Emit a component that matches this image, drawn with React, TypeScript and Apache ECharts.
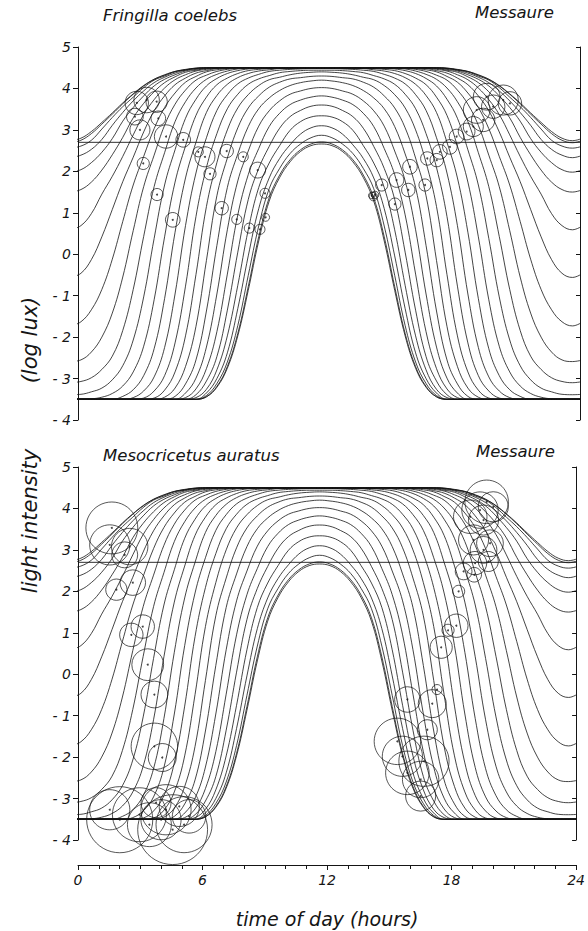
import React, { useEffect, useRef } from "react";
import * as echarts from "echarts";

// Solar time grid (hours from solar midnight to solar noon); afternoon mirrors the morning
const SOLAR_HOURS = [0, 0.5, 1, 1.5, 2, 2.5, 3, 3.5, 4, 4.5, 5, 5.5, 6, 6.5, 7, 7.5, 8, 8.5, 9, 9.5, 10, 10.5, 11, 11.5, 12];
// clock time of solar noon at Messaure (curves are symmetric about it)
const SOLAR_NOON = 11.64;
// light level at sunrise / sunset (horizontal reference line), log lux
const SUNRISE_LEVEL = 2.7;

// light intensity (log lux) per weekly curve, from winter (week00) to summer solstice (week26)
const week00 = [-3.5, -3.5, -3.5, -3.5, -3.5, -3.5, -3.5, -3.5, -3.5, -3.5, -3.5, -3.5, -3.5, -3.44, -3.21, -2.75, -1.97, -0.87, 0.32, 1.28, 1.85, 2.23, 2.48, 2.62, 2.66];
const week01 = [-3.5, -3.5, -3.5, -3.5, -3.5, -3.5, -3.5, -3.5, -3.5, -3.5, -3.5, -3.5, -3.5, -3.44, -3.19, -2.71, -1.91, -0.78, 0.42, 1.36, 1.91, 2.28, 2.52, 2.66, 2.71];
const week02 = [-3.5, -3.5, -3.5, -3.5, -3.5, -3.5, -3.5, -3.5, -3.5, -3.5, -3.5, -3.5, -3.5, -3.41, -3.12, -2.6, -1.72, -0.51, 0.68, 1.58, 2.07, 2.43, 2.66, 2.81, 2.87];
const week03 = [-3.5, -3.5, -3.5, -3.5, -3.5, -3.5, -3.5, -3.5, -3.5, -3.5, -3.5, -3.5, -3.5, -3.35, -3.0, -2.38, -1.31, -0.04, 1.1, 1.84, 2.31, 2.64, 2.9, 3.05, 3.1];
const week04 = [-3.5, -3.5, -3.5, -3.5, -3.5, -3.5, -3.5, -3.5, -3.5, -3.5, -3.5, -3.5, -3.46, -3.26, -2.79, -1.97, -0.75, 0.59, 1.61, 2.2, 2.62, 2.99, 3.2, 3.31, 3.34];
const week05 = [-3.5, -3.5, -3.5, -3.5, -3.5, -3.5, -3.5, -3.5, -3.5, -3.5, -3.5, -3.5, -3.39, -3.06, -2.47, -1.35, 0.05, 1.32, 2.07, 2.6, 3.04, 3.32, 3.47, 3.57, 3.6];
const week06 = [-3.5, -3.5, -3.5, -3.5, -3.5, -3.5, -3.5, -3.5, -3.5, -3.5, -3.5, -3.46, -3.25, -2.76, -1.87, -0.48, 0.95, 1.92, 2.55, 3.08, 3.4, 3.61, 3.72, 3.79, 3.82];
const week07 = [-3.5, -3.5, -3.5, -3.5, -3.5, -3.5, -3.5, -3.5, -3.5, -3.5, -3.5, -3.35, -2.99, -2.24, -0.96, 0.59, 1.77, 2.49, 3.09, 3.46, 3.7, 3.86, 3.94, 4.0, 4.02];
const week08 = [-3.5, -3.5, -3.5, -3.5, -3.5, -3.5, -3.5, -3.5, -3.5, -3.5, -3.43, -3.13, -2.55, -1.37, 0.21, 1.61, 2.42, 3.08, 3.51, 3.77, 3.95, 4.07, 4.14, 4.18, 4.2];
const week09 = [-3.5, -3.5, -3.5, -3.5, -3.5, -3.5, -3.5, -3.5, -3.5, -3.45, -3.23, -2.71, -1.74, -0.15, 1.41, 2.32, 3.05, 3.53, 3.82, 4.03, 4.15, 4.23, 4.26, 4.29, 4.3];
const week10 = [-3.5, -3.5, -3.5, -3.5, -3.5, -3.5, -3.5, -3.5, -3.47, -3.28, -2.84, -1.97, -0.49, 1.15, 2.21, 3.0, 3.53, 3.85, 4.07, 4.21, 4.27, 4.33, 4.37, 4.39, 4.4];
const week11 = [-3.5, -3.5, -3.5, -3.5, -3.5, -3.5, -3.5, -3.47, -3.3, -2.93, -2.14, -0.77, 0.91, 2.09, 2.91, 3.51, 3.86, 4.1, 4.23, 4.31, 4.38, 4.41, 4.43, 4.44, 4.44];
const week12 = [-3.5, -3.5, -3.5, -3.5, -3.5, -3.5, -3.46, -3.3, -2.96, -2.25, -0.96, 0.69, 1.96, 2.81, 3.47, 3.85, 4.11, 4.25, 4.34, 4.41, 4.44, 4.46, 4.47, 4.48, 4.48];
const week13 = [-3.5, -3.5, -3.5, -3.5, -3.5, -3.43, -3.27, -2.93, -2.28, -1.07, 0.53, 1.84, 2.7, 3.42, 3.83, 4.1, 4.26, 4.36, 4.42, 4.45, 4.48, 4.49, 4.49, 4.5, 4.5];
const week14 = [-3.5, -3.5, -3.49, -3.45, -3.36, -3.18, -2.84, -2.22, -1.1, 0.42, 1.74, 2.61, 3.35, 3.79, 4.09, 4.25, 4.36, 4.43, 4.46, 4.48, 4.49, 4.49, 4.5, 4.5, 4.5];
const week15 = [-3.39, -3.38, -3.32, -3.23, -3.03, -2.69, -2.07, -1.03, 0.38, 1.67, 2.52, 3.28, 3.74, 4.06, 4.24, 4.36, 4.43, 4.47, 4.49, 4.49, 4.5, 4.5, 4.5, 4.5, 4.5];
const week16 = [-3.1, -3.07, -2.98, -2.78, -2.46, -1.84, -0.85, 0.43, 1.63, 2.45, 3.2, 3.68, 4.01, 4.22, 4.34, 4.42, 4.47, 4.49, 4.5, 4.5, 4.5, 4.5, 4.5, 4.5, 4.5];
const week17 = [-2.59, -2.55, -2.36, -2.0, -1.42, -0.55, 0.57, 1.63, 2.39, 3.11, 3.62, 3.96, 4.2, 4.32, 4.41, 4.46, 4.49, 4.5, 4.5, 4.5, 4.5, 4.5, 4.5, 4.5, 4.5];
const week18 = [-1.73, -1.63, -1.34, -0.85, -0.12, 0.79, 1.67, 2.36, 3.03, 3.54, 3.89, 4.15, 4.29, 4.4, 4.45, 4.48, 4.5, 4.5, 4.5, 4.5, 4.5, 4.5, 4.5, 4.5, 4.5];
const week19 = [-0.56, -0.46, -0.13, 0.42, 1.08, 1.75, 2.34, 2.95, 3.46, 3.82, 4.09, 4.25, 4.37, 4.43, 4.48, 4.49, 4.5, 4.5, 4.5, 4.5, 4.5, 4.5, 4.5, 4.5, 4.5];
const week20 = [0.59, 0.69, 0.98, 1.45, 1.88, 2.36, 2.88, 3.37, 3.73, 4.01, 4.21, 4.33, 4.42, 4.46, 4.49, 4.5, 4.5, 4.5, 4.5, 4.5, 4.5, 4.5, 4.5, 4.5, 4.5];
const week21 = [1.5, 1.56, 1.74, 2.03, 2.4, 2.82, 3.29, 3.64, 3.92, 4.14, 4.28, 4.39, 4.44, 4.48, 4.49, 4.5, 4.5, 4.5, 4.5, 4.5, 4.5, 4.5, 4.5, 4.5, 4.5];
const week22 = [1.98, 2.04, 2.21, 2.46, 2.79, 3.21, 3.54, 3.82, 4.06, 4.22, 4.33, 4.42, 4.46, 4.49, 4.5, 4.5, 4.5, 4.5, 4.5, 4.5, 4.5, 4.5, 4.5, 4.5, 4.5];
const week23 = [2.33, 2.39, 2.53, 2.77, 3.11, 3.42, 3.7, 3.94, 4.14, 4.27, 4.37, 4.44, 4.48, 4.49, 4.5, 4.5, 4.5, 4.5, 4.5, 4.5, 4.5, 4.5, 4.5, 4.5, 4.5];
const week24 = [2.56, 2.61, 2.75, 3.02, 3.3, 3.56, 3.79, 4.02, 4.2, 4.3, 4.4, 4.45, 4.48, 4.5, 4.5, 4.5, 4.5, 4.5, 4.5, 4.5, 4.5, 4.5, 4.5, 4.5, 4.5];
const week25 = [2.69, 2.75, 2.91, 3.14, 3.38, 3.63, 3.86, 4.06, 4.22, 4.32, 4.41, 4.45, 4.49, 4.5, 4.5, 4.5, 4.5, 4.5, 4.5, 4.5, 4.5, 4.5, 4.5, 4.5, 4.5];
const week26 = [2.74, 2.8, 2.96, 3.18, 3.41, 3.65, 3.87, 4.07, 4.22, 4.33, 4.41, 4.46, 4.49, 4.5, 4.5, 4.5, 4.5, 4.5, 4.5, 4.5, 4.5, 4.5, 4.5, 4.5, 4.5];

const WEEKLY_CURVES = [week00, week01, week02, week03, week04, week05, week06, week07, week08, week09, week10, week11, week12, week13, week14, week15, week16, week17, week18, week19, week20, week21, week22, week23, week24, week25, week26];

// activity onsets / ends: [time of day (h), light intensity (log lux), circle radius (h)]
const FRINGILLA_COELEBS = [
  [3.28, 3.72, 0.61], [2.81, 3.65, 0.56], [3.76, 3.68, 0.51], [2.72, 3.32, 0.4], [2.96, 3.0, 0.48],
  [3.84, 3.28, 0.35], [4.21, 2.84, 0.56], [5.03, 2.76, 0.35], [3.12, 2.19, 0.29], [5.75, 2.47, 0.24],
  [6.07, 2.35, 0.48], [6.31, 1.94, 0.29], [7.11, 2.49, 0.32], [7.9, 2.35, 0.24], [8.59, 2.03, 0.38],
  [3.78, 1.44, 0.29], [8.94, 1.47, 0.24], [6.87, 1.11, 0.32], [4.53, 0.83, 0.35], [7.59, 0.84, 0.24],
  [8.19, 0.63, 0.24], [8.7, 0.6, 0.24], [8.97, 0.89, 0.19],
  [19.54, 3.8, 0.64], [20.33, 3.72, 0.72], [20.65, 3.64, 0.56], [19.85, 3.56, 0.56], [19.06, 3.48, 0.64],
  [19.37, 3.24, 0.56], [18.9, 3.08, 0.48], [18.58, 2.96, 0.4], [18.1, 2.84, 0.35], [17.78, 2.59, 0.35],
  [17.3, 2.47, 0.35], [17.15, 2.27, 0.32], [16.7, 2.31, 0.32], [15.87, 2.11, 0.35], [15.23, 1.79, 0.35],
  [15.79, 1.55, 0.32], [16.59, 1.67, 0.29], [14.52, 1.67, 0.29], [14.12, 1.39, 0.2], [14.05, 1.42, 0.16],
  [14.2, 1.43, 0.18], [15.15, 1.21, 0.29],
];

const MESOCRICETUS_AURATUS = [
  [1.63, 3.53, 1.24], [1.53, 3.12, 0.96], [2.49, 3.08, 0.87], [2.25, 2.88, 0.62], [2.64, 2.21, 0.61],
  [1.85, 2.04, 0.51], [3.12, 1.15, 0.56], [2.57, 0.95, 0.56], [3.36, 0.23, 0.76], [3.68, -0.49, 0.64],
  [3.68, -1.74, 1.11], [4.06, -2.01, 0.67], [2.01, -3.51, 1.58], [2.96, -3.39, 1.29], [4.24, -3.27, 1.2],
  [4.56, -3.75, 1.67], [4.0, -3.51, 0.96], [4.88, -3.19, 0.96], [3.76, -3.1, 0.72], [5.35, -3.43, 0.8],
  [3.44, -3.63, 1.05], [5.11, -3.63, 1.34], [1.53, -3.27, 0.96],
  [19.69, 4.16, 1.04], [19.37, 3.96, 0.87], [18.9, 3.8, 0.8], [19.54, 3.72, 0.72], [20.01, 4.04, 0.72],
  [19.06, 3.24, 0.72], [19.54, 3.0, 0.64], [19.85, 3.16, 0.64], [19.13, 2.68, 0.56], [18.58, 2.48, 0.4],
  [19.09, 2.4, 0.35], [19.77, 2.72, 0.48], [18.34, 2.0, 0.29], [18.23, 1.17, 0.56], [17.83, 1.06, 0.29],
  [17.5, 0.65, 0.53], [17.3, -0.37, 0.24], [15.87, -0.61, 0.61], [17.07, -0.71, 0.67], [16.83, -1.34, 0.48],
  [15.39, -1.62, 1.11], [15.63, -1.98, 0.96], [15.87, -2.38, 1.04], [16.51, -2.54, 0.87], [16.67, -2.1, 1.2],
  [16.51, -2.94, 0.72],
];

const X_MIN = 0;
const X_MAX = 24;
const Y_MIN = -4;
const Y_MAX = 5;

const W = 588;
const H = 931;
const GRID_LEFT = 78;
const GRID_RIGHT = 8;
const PX_PER_HOUR = (W - GRID_LEFT - GRID_RIGHT) / (X_MAX - X_MIN);

const FONT = '"DejaVu Sans", "Liberation Sans", sans-serif';
const INK = "#151515";

function curvePoints(half: number[]) {
  const shift = 12 - SOLAR_NOON;
  const pts: number[][] = [];
  SOLAR_HOURS.forEach((t, i) => pts.push([t - shift, half[i]]));
  for (let i = SOLAR_HOURS.length - 2; i >= 0; i--) pts.push([24 - SOLAR_HOURS[i] - shift, half[i]]);
  pts.push([24 + SOLAR_HOURS[1] - shift, half[1]]);
  return pts;
}

export default function App() {
  const ref = useRef<HTMLDivElement>(null);

  useEffect(() => {
    document.body.style.margin = "0";
    if (!ref.current) return;
    const chart = echarts.init(ref.current, undefined, { renderer: "svg" });

    const labelStyle = { fontFamily: FONT, fontStyle: "italic" as const, fontSize: 14, color: INK };
    const yLeft = (gridIndex: number) => ({
      type: "value" as const,
      gridIndex,
      position: "left" as const,
      min: Y_MIN,
      max: Y_MAX,
      interval: 1,
      axisLine: { show: true, onZero: false, lineStyle: { color: INK, width: 1 } },
      axisTick: { show: true, length: 5, lineStyle: { color: INK, width: 1 } },
      axisLabel: {
        ...labelStyle,
        margin: 7,
        formatter: (v: number) => (v < 0 ? "- " + Math.abs(v) : String(v)),
      },
      splitLine: { show: false },
    });
    const yRight = (gridIndex: number) => ({
      type: "value" as const,
      gridIndex,
      position: "right" as const,
      min: Y_MIN,
      max: Y_MAX,
      interval: 1,
      axisLine: { show: true, onZero: false, lineStyle: { color: INK, width: 1 } },
      axisTick: { show: true, inside: true, length: 4, lineStyle: { color: INK, width: 1 } },
      axisLabel: { show: false },
      splitLine: { show: false },
    });

    const series: any[] = [];
    [0, 1].forEach((g) => {
      WEEKLY_CURVES.forEach((c) => {
        series.push({
          type: "line",
          xAxisIndex: g,
          yAxisIndex: g * 2,
          data: curvePoints(c),
          smooth: 0.4,
          showSymbol: false,
          clip: true,
          silent: true,
          lineStyle: { color: INK, width: 0.8 },
          z: 2,
        });
      });
      series.push({
        type: "line",
        xAxisIndex: g,
        yAxisIndex: g * 2,
        data: [
          [X_MIN, SUNRISE_LEVEL],
          [X_MAX, SUNRISE_LEVEL],
        ],
        showSymbol: false,
        silent: true,
        lineStyle: { color: INK, width: 0.9 },
        z: 2,
      });
      const pts = g === 0 ? FRINGILLA_COELEBS : MESOCRICETUS_AURATUS;
      series.push({
        type: "scatter",
        xAxisIndex: g,
        yAxisIndex: g * 2,
        data: pts,
        symbol: "circle",
        symbolSize: (val: number[]) => val[2] * 2 * PX_PER_HOUR,
        itemStyle: { color: "rgba(255,255,255,0)", borderColor: INK, borderWidth: 0.9 },
        silent: true,
        z: 3,
      });
      series.push({
        type: "scatter",
        xAxisIndex: g,
        yAxisIndex: g * 2,
        data: pts.map((p) => [p[0], p[1]]),
        symbol: "circle",
        symbolSize: 2,
        itemStyle: { color: INK },
        silent: true,
        z: 4,
      });
    });

    const titleStyle = { fontFamily: FONT, fontStyle: "italic" as const, fontWeight: "normal" as const, fontSize: 16.5, color: INK };

    chart.setOption({
      animation: false,
      backgroundColor: "#ffffff",
      title: [
        { text: "Fringilla coelebs", left: 103, top: 7, padding: 0, textStyle: titleStyle },
        { text: "Messaure", right: 34, top: 4, padding: 0, textStyle: titleStyle },
        { text: "Mesocricetus auratus", left: 103, top: 447, padding: 0, textStyle: titleStyle },
        { text: "Messaure", right: 33, top: 443, padding: 0, textStyle: titleStyle },
      ],
      grid: [
        { left: GRID_LEFT, right: GRID_RIGHT, top: 47, height: 373 },
        { left: GRID_LEFT, right: GRID_RIGHT, top: 467, height: 373 },
      ],
      xAxis: [
        { type: "value", gridIndex: 0, min: X_MIN, max: X_MAX, show: false },
        {
          type: "value",
          gridIndex: 1,
          min: X_MIN,
          max: X_MAX,
          interval: 6,
          offset: 25,
          axisLine: { show: true, onZero: false, lineStyle: { color: INK, width: 1 } },
          axisTick: { show: true, length: 5, lineStyle: { color: INK, width: 1 } },
          minorTick: { show: true, splitNumber: 6, length: 4, lineStyle: { color: INK, width: 1 } },
          axisLabel: { ...labelStyle, margin: 8 },
          splitLine: { show: false },
          minorSplitLine: { show: false },
          name: "time of day (hours)",
          nameLocation: "middle",
          nameGap: 44,
          nameTextStyle: { fontFamily: FONT, fontStyle: "italic", fontSize: 19, color: INK },
        },
      ],
      yAxis: [yLeft(0), yRight(0), yLeft(1), yRight(1)],
      graphic: [
        {
          type: "text",
          x: 30,
          y: 521,
          rotation: Math.PI / 2,
          style: { text: "light intensity", font: 'italic 21px "DejaVu Sans"', fill: INK, textAlign: "center", textVerticalAlign: "middle" },
        },
        {
          type: "text",
          x: 30,
          y: 340,
          rotation: Math.PI / 2,
          style: { text: "(log lux)", font: 'italic 21px "DejaVu Sans"', fill: INK, textAlign: "center", textVerticalAlign: "middle" },
        },
      ],
      series,
    });

    return () => chart.dispose();
  }, []);

  return <div ref={ref} style={{ width: W, height: H }} />;
}
